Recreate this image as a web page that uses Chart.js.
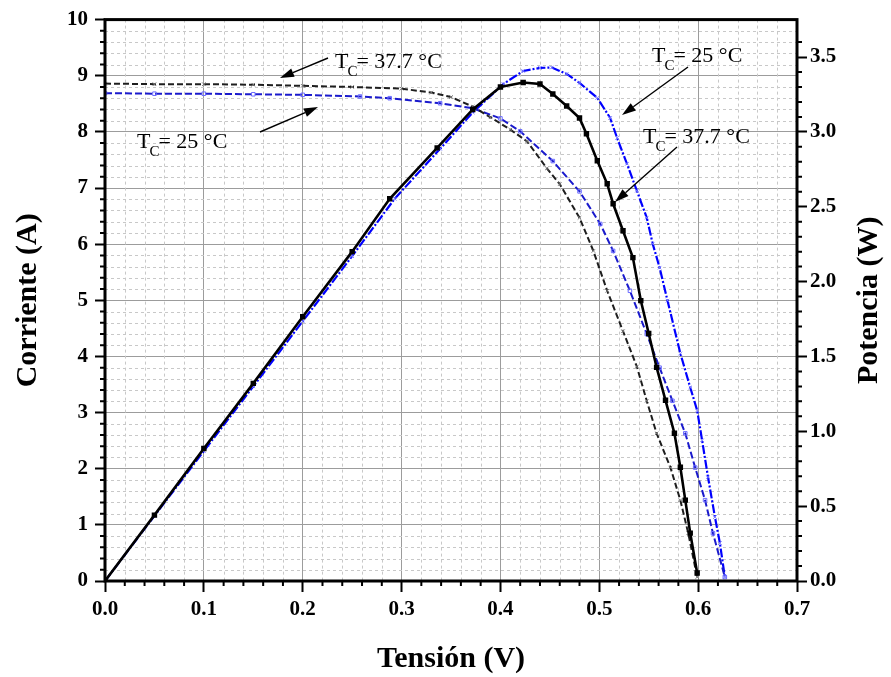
<!DOCTYPE html>
<html>
<head>
<meta charset="utf-8">
<script src="https://cdn.jsdelivr.net/npm/chart.js@4.4.1/dist/chart.umd.min.js"></script>
<style>
  body { margin: 0; background: #fff; }
  canvas { display: block; }
</style>
</head>
<body>
<canvas id="ivChart" width="891" height="677"></canvas>
<script>
// I-V curve, Tc = 37.7 °C
var vIV37 = [0, 0.05, 0.1, 0.15, 0.2, 0.25, 0.3, 0.33, 0.35, 0.372, 0.39, 0.41, 0.427, 0.447, 0.46, 0.48, 0.494, 0.508, 0.524, 0.538, 0.548, 0.558, 0.572, 0.582, 0.59, 0.599];
var iIV37 = [8.86, 8.85, 8.85, 8.84, 8.82, 8.80, 8.77, 8.70, 8.62, 8.45, 8.26, 8.04, 7.83, 7.35, 7.07, 6.47, 5.88, 5.17, 4.45, 3.82, 3.21, 2.63, 2.02, 1.44, 0.85, 0.07];

// I-V curve, Tc = 25 °C
var vIV25 = [0, 0.05, 0.1, 0.15, 0.2, 0.258, 0.288, 0.339, 0.372, 0.4, 0.42, 0.453, 0.48, 0.501, 0.514, 0.531, 0.548, 0.561, 0.574, 0.587, 0.597, 0.607, 0.615, 0.627];
var iIV25 = [8.69, 8.68, 8.68, 8.67, 8.66, 8.63, 8.60, 8.51, 8.42, 8.24, 8.01, 7.48, 6.94, 6.36, 5.88, 5.17, 4.40, 3.80, 3.21, 2.63, 2.02, 1.44, 0.85, 0.07];

// P-V curve, Tc = 37.7 °C
var vPV37 = [0, 0.05, 0.1, 0.15, 0.2, 0.25, 0.288, 0.336, 0.372, 0.4, 0.423, 0.44, 0.453, 0.467, 0.48, 0.487, 0.498, 0.508, 0.514, 0.524, 0.534, 0.542, 0.55, 0.558, 0.567, 0.576, 0.582, 0.587, 0.592, 0.599];
var pPV37 = [0, 0.44, 0.885, 1.32, 1.765, 2.2, 2.553, 2.893, 3.15, 3.3, 3.33, 3.32, 3.253, 3.173, 3.093, 2.987, 2.807, 2.653, 2.52, 2.34, 2.16, 1.873, 1.653, 1.427, 1.207, 0.987, 0.76, 0.54, 0.32, 0.053];

// P-V curve, Tc = 25 °C
var vPV25 = [0, 0.05, 0.1, 0.15, 0.2, 0.25, 0.293, 0.339, 0.372, 0.403, 0.423, 0.44, 0.452, 0.467, 0.48, 0.498, 0.511, 0.518, 0.528, 0.538, 0.548, 0.554, 0.561, 0.569, 0.582, 0.592, 0.599, 0.604, 0.61, 0.617, 0.622, 0.627];
var pPV25 = [0, 0.435, 0.868, 1.3, 1.735, 2.17, 2.553, 2.887, 3.13, 3.32, 3.407, 3.427, 3.43, 3.387, 3.327, 3.227, 3.093, 2.96, 2.787, 2.607, 2.427, 2.253, 2.093, 1.873, 1.52, 1.293, 1.14, 0.94, 0.693, 0.427, 0.253, 0.027];

var serif = "'Liberation Serif', 'Times New Roman', serif";

function pairs(xs, ys) {
    return xs.map(function (v, i) { return { x: v, y: ys[i] }; });
}

// dashed minor grid, minor ticks and the heavy frame
var frameAndMinor = {
    id: "frameAndMinor",
    beforeDatasetsDraw: function (chart) {
        var ctx = chart.ctx, a = chart.chartArea;
        var x = chart.scales.x, y = chart.scales.y, y2 = chart.scales.y2;
        ctx.save();
        ctx.strokeStyle = "#c8c8c8";
        ctx.lineWidth = 1;
        ctx.setLineDash([3, 3]);
        ctx.beginPath();
        for (var k = 1; k < 35; k++) {
            if (k % 5 === 0) continue;
            var px = Math.round(x.getPixelForValue(k * 0.02)) + 0.5;
            ctx.moveTo(px, a.top); ctx.lineTo(px, a.bottom);
        }
        for (var j = 1; j < 50; j++) {
            if (j % 5 === 0) continue;
            var py = Math.round(y.getPixelForValue(j * 0.2)) + 0.5;
            ctx.moveTo(a.left, py); ctx.lineTo(a.right, py);
        }
        ctx.stroke();
        ctx.setLineDash([]);
        ctx.strokeStyle = "#000";
        ctx.lineWidth = 2;
        ctx.beginPath();
        for (k = 1; k < 35; k++) {
            if (k % 5 === 0) continue;
            px = x.getPixelForValue(k * 0.02);
            ctx.moveTo(px, a.bottom); ctx.lineTo(px, a.bottom + 5);
        }
        for (j = 1; j < 50; j++) {
            if (j % 5 === 0) continue;
            py = y.getPixelForValue(j * 0.2);
            ctx.moveTo(a.left, py); ctx.lineTo(a.left - 5, py);
        }
        for (j = 1; j < 37; j++) {
            if (j % 5 === 0) continue;
            py = y2.getPixelForValue(j * 0.1);
            ctx.moveTo(a.right, py); ctx.lineTo(a.right + 5, py);
        }
        ctx.stroke();
        ctx.restore();
    },
    afterDatasetsDraw: function (chart) {
        var ctx = chart.ctx, a = chart.chartArea;
        ctx.save();
        ctx.strokeStyle = "#000";
        ctx.lineWidth = 3;
        ctx.strokeRect(a.left, a.top, a.right - a.left, a.bottom - a.top);
        ctx.restore();
    }
};

function tcLabel(ctx, x, y, temp) {
    ctx.font = "22px " + serif;
    ctx.textBaseline = "alphabetic";
    ctx.textAlign = "left";
    ctx.fillText("T", x, y);
    var w = ctx.measureText("T").width;
    ctx.font = "15px " + serif;
    ctx.fillText("C", x + w - 1, y + 8);
    var w2 = ctx.measureText("C").width;
    ctx.font = "22px " + serif;
    ctx.fillText("= " + temp + " \u00B0C", x + w + w2 - 2, y);
}

function arrow(ctx, x1, y1, x2, y2) {
    var ang = Math.atan2(y2 - y1, x2 - x1);
    var len = 14, hw = 4.5;
    var bx = x2 - len * Math.cos(ang), by = y2 - len * Math.sin(ang);
    ctx.beginPath();
    ctx.moveTo(x1, y1);
    ctx.lineTo(bx, by);
    ctx.lineWidth = 1.4;
    ctx.stroke();
    ctx.beginPath();
    ctx.moveTo(x2, y2);
    ctx.lineTo(bx + hw * Math.sin(ang), by - hw * Math.cos(ang));
    ctx.lineTo(bx - hw * Math.sin(ang), by + hw * Math.cos(ang));
    ctx.closePath();
    ctx.fill();
}

var notes = {
    id: "notes",
    afterDraw: function (chart) {
        var ctx = chart.ctx, a = chart.chartArea;
        ctx.save();
        ctx.fillStyle = "#000";
        ctx.strokeStyle = "#000";
        tcLabel(ctx, 335, 68, "37.7");
        arrow(ctx, 328, 58, 280, 78);
        tcLabel(ctx, 137, 148, "25");
        arrow(ctx, 260, 132, 318, 107);
        tcLabel(ctx, 652, 62, "25");
        arrow(ctx, 688, 67, 622, 115);
        tcLabel(ctx, 643, 143, "37.7");
        arrow(ctx, 677, 147, 615, 202);
        // right axis title, read bottom to top like the left one
        ctx.translate(869, (a.top + a.bottom) / 2);
        ctx.rotate(-Math.PI / 2);
        ctx.font = "bold 30px " + serif;
        ctx.textAlign = "center";
        ctx.textBaseline = "middle";
        ctx.fillText("Potencia (W)", 0, 0);
        ctx.restore();
    }
};

var tickFont = { family: serif, size: 21, weight: "bold" };
var titleFont = { family: serif, size: 30, weight: "bold" };

new Chart(document.getElementById("ivChart").getContext("2d"), {
    type: "line",
    data: {
        datasets: [
            {
                data: pairs(vPV37, pPV37),
                yAxisID: "y2",
                borderColor: "#000",
                borderWidth: 2.6,
                pointStyle: "rect",
                pointRadius: 2,
                pointBackgroundColor: "#000",
                pointBorderColor: "#000",
                tension: 0
            },
            {
                data: pairs(vIV37, iIV37),
                yAxisID: "y",
                borderColor: "#1e1e1e",
                borderWidth: 2,
                borderDash: [6, 3],
                pointStyle: "crossRot",
                pointRadius: 2.5,
                pointBorderColor: "#777",
                pointBorderWidth: 1,
                tension: 0
            },
            {
                data: pairs(vIV25, iIV25),
                yAxisID: "y",
                borderColor: "#1a1acc",
                borderWidth: 2,
                borderDash: [7, 3],
                pointStyle: "rect",
                pointRadius: 2.5,
                pointBackgroundColor: "rgba(0,0,0,0)",
                pointBorderColor: "#6b6bff",
                pointBorderWidth: 1,
                tension: 0
            },
            {
                data: pairs(vPV25, pPV25),
                yAxisID: "y2",
                borderColor: "#0000ff",
                borderWidth: 2.2,
                borderDash: [9, 2, 2, 2],
                pointStyle: "crossRot",
                pointRadius: 2.5,
                pointBorderColor: "#7a7aff",
                pointBorderWidth: 1,
                tension: 0
            }
        ]
    },
    options: {
        responsive: false,
        animation: false,
        layout: { padding: { top: 18, left: 0, right: 0, bottom: 0 } },
        plugins: {
            legend: { display: false },
            tooltip: { enabled: false }
        },
        scales: {
            x: {
                type: "linear",
                min: 0,
                max: 0.7,
                afterFit: function (s) { s.height = 96; },
                border: { display: false },
                grid: { color: "#9c9c9c", lineWidth: 1, tickLength: 11, tickColor: "#000", tickWidth: 2 },
                ticks: {
                    stepSize: 0.1,
                    maxRotation: 0,
                    padding: 5,
                    color: "#000",
                    font: tickFont,
                    callback: function (v) { return v.toFixed(1); }
                },
                title: { display: true, text: "Tensión (V)", color: "#000", font: titleFont, padding: { top: 0, bottom: 0 } }
            },
            y: {
                position: "left",
                min: 0,
                max: 10,
                afterFit: function (s) { s.width = 105; },
                border: { display: false },
                grid: { color: "#9c9c9c", lineWidth: 1, tickLength: 10, tickColor: "#000", tickWidth: 2 },
                ticks: { stepSize: 1, padding: 7, color: "#000", font: tickFont },
                title: { display: true, text: "Corriente (A)", color: "#000", font: titleFont, padding: { top: 10, bottom: 0 } }
            },
            y2: {
                position: "right",
                min: 0,
                max: 3.75,
                afterFit: function (s) { s.width = 94; },
                afterBuildTicks: function (s) {
                    s.ticks = s.ticks.filter(function (t) { return t.value <= 3.5 + 1e-9; });
                },
                border: { display: false },
                grid: { drawOnChartArea: false, tickLength: 10, tickColor: "#000", tickWidth: 2 },
                ticks: {
                    stepSize: 0.5,
                    padding: 3,
                    color: "#000",
                    font: tickFont,
                    callback: function (v) { return v.toFixed(1); }
                },
                title: { display: false }
            }
        }
    },
    plugins: [frameAndMinor, notes]
});
</script>
</body>
</html>
